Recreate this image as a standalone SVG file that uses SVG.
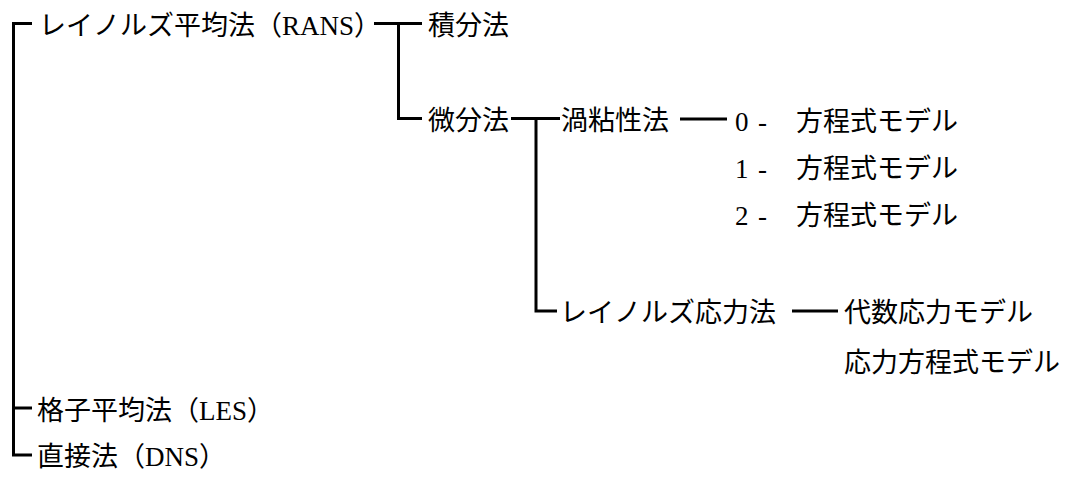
<svg xmlns="http://www.w3.org/2000/svg" width="1077" height="477" viewBox="0 0 1077 477">
<style>
text{font-family:"Liberation Serif","Noto Sans CJK JP",serif;font-size:27px;fill:#000}
.c{fill:none;stroke:#000;stroke-width:3;stroke-linecap:butt;stroke-linejoin:miter}
</style>
<rect width="1077" height="477" fill="#fff"/>
<g id="connectors">
<path class="c" d="M32 23.5H13.5V455H32"/>
<path class="c" d="M13.5 408H32"/>
<path class="c" d="M374 23.5H422"/>
<path class="c" d="M398.5 23.5V118.5H422"/>
<path class="c" d="M511 118.5H560"/>
<path class="c" d="M536 118.5V311H557"/>
<path class="c" d="M680 119H727"/>
<path class="c" d="M792 311H838"/>
</g>
<g id="rans"><text x="39" y="35">レイノルズ平均法（RANS）</text></g>
<g id="sekibun"><text x="428" y="35">積分法</text></g>
<g id="bibun"><text x="428" y="130">微分法</text></g>
<g id="uzunensei"><text x="561" y="130">渦粘性法</text></g>
<g id="eq0"><text y="131"><tspan x="735">0</tspan><tspan x="758">-</tspan><tspan x="796">方程式モデル</tspan></text></g>
<g id="eq1"><text y="178"><tspan x="735">1</tspan><tspan x="758">-</tspan><tspan x="796">方程式モデル</tspan></text></g>
<g id="eq2"><text y="225"><tspan x="735">2</tspan><tspan x="758">-</tspan><tspan x="796">方程式モデル</tspan></text></g>
<g id="reynolds-stress"><text x="560" y="322">レイノルズ応力法</text></g>
<g id="algebraic"><text x="844" y="322">代数応力モデル</text></g>
<g id="stress-eq"><text x="844" y="372">応力方程式モデル</text></g>
<g id="les"><text x="37" y="420">格子平均法（LES）</text></g>
<g id="dns"><text x="37" y="466">直接法（DNS）</text></g>
</svg>
